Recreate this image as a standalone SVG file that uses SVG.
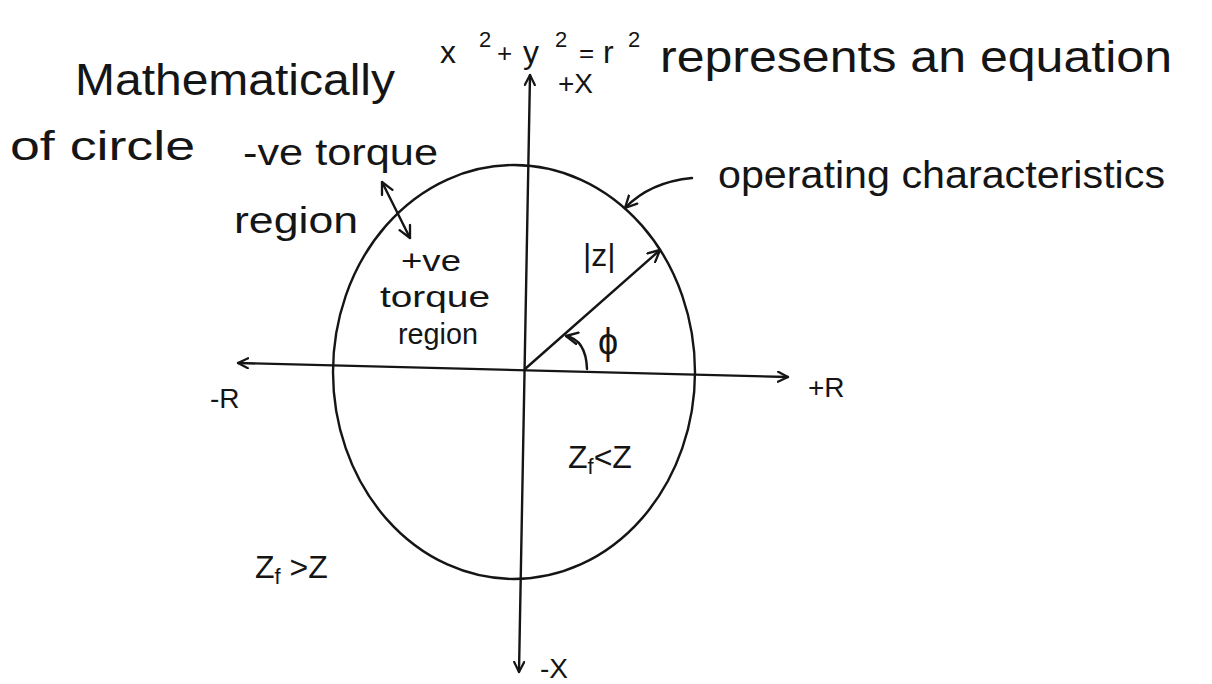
<svg xmlns="http://www.w3.org/2000/svg" width="1212" height="684" viewBox="0 0 1212 684">
<style>
  .ink { stroke:#151515; stroke-width:2.4; fill:none; stroke-linecap:round; stroke-linejoin:round; }
  .t { font-family:"Liberation Sans", Arial, sans-serif; fill:#151515; }
  .mid { font-size:32px; }
  .sm { font-size:28px; }
  .sup { font-size:22px; }
  .eq { font-size:32px; }
</style>
<defs>
  <marker id="arr" viewBox="0 0 12 12" refX="11" refY="6" markerWidth="12" markerHeight="12" markerUnits="userSpaceOnUse" orient="auto-start-reverse">
    <path d="M1,1 L11,6 L1,11" fill="none" stroke="#151515" stroke-width="2.2" stroke-linecap="round" stroke-linejoin="round"/>
  </marker>
  <marker id="arrS" viewBox="0 0 12 12" refX="11" refY="6" markerWidth="14" markerHeight="14" markerUnits="userSpaceOnUse" orient="auto-start-reverse">
    <path d="M1,1 L11,6 L1,11" fill="none" stroke="#151515" stroke-width="2" stroke-linecap="round" stroke-linejoin="round"/>
  </marker>
</defs>
<rect width="1212" height="684" fill="#ffffff"/>

<g id="title">
  <text class="t" x="75" y="95" font-size="44" textLength="320" lengthAdjust="spacingAndGlyphs">Mathematically</text>
  <text class="t eq" x="440" y="63">x</text>
  <text class="t sup" x="479" y="47">2</text>
  <text class="t" x="497" y="62" font-size="26">+</text>
  <text class="t eq" x="523" y="63">y</text>
  <text class="t sup" x="555" y="47">2</text>
  <text class="t" x="579" y="62" font-size="26">=</text>
  <text class="t eq" x="603" y="63">r</text>
  <text class="t sup" x="628" y="47">2</text>
  <text class="t" x="660" y="72" font-size="44" textLength="512" lengthAdjust="spacingAndGlyphs">represents an equation</text>
  <text class="t" x="10" y="160" font-size="40" textLength="185" lengthAdjust="spacingAndGlyphs">of circle</text>
</g>

<g id="circle">
  <ellipse class="ink" cx="514" cy="372" rx="181" ry="207"/>
</g>

<g id="axes">
  <line class="ink" x1="530" y1="75" x2="519" y2="672" marker-start="url(#arr)" marker-end="url(#arr)"/>
  <line class="ink" x1="238" y1="363" x2="788" y2="377" marker-start="url(#arr)" marker-end="url(#arr)"/>
  <text class="t sm" x="558" y="93">+X</text>
  <text class="t sm" x="540" y="678">-X</text>
  <text class="t sm" x="210" y="408">-R</text>
  <text class="t sm" x="808" y="397">+R</text>
</g>

<g id="connectors">
  <line class="ink" x1="525" y1="369" x2="660" y2="250" marker-end="url(#arrS)"/>
  <path class="ink" d="M587,369 Q586,340 566,336" marker-end="url(#arrS)"/>
  <line class="ink" x1="382" y1="182" x2="410" y2="238" marker-start="url(#arrS)" marker-end="url(#arrS)"/>
  <path class="ink" d="M692,178 Q650,182 625,208" marker-end="url(#arrS)"/>
</g>

<g id="neg-torque-region">
  <text class="t" x="243" y="165" font-size="36" textLength="195" lengthAdjust="spacingAndGlyphs">-ve torque</text>
  <text class="t" x="234" y="233" font-size="36" textLength="124" lengthAdjust="spacingAndGlyphs">region</text>
</g>

<g id="pos-torque-region">
  <text class="t" x="401" y="271" font-size="30" textLength="60" lengthAdjust="spacingAndGlyphs">+ve</text>
  <text class="t" x="380" y="307" font-size="29" textLength="110" lengthAdjust="spacingAndGlyphs">torque</text>
  <text class="t" x="398" y="344" font-size="29" textLength="80" lengthAdjust="spacingAndGlyphs">region</text>
</g>

<g id="operating-characteristics">
  <text class="t" x="718" y="188" font-size="38" textLength="447" lengthAdjust="spacingAndGlyphs">operating characteristics</text>
</g>

<g id="labels">
  <text class="t mid" x="583" y="266">|z|</text>
  <text class="t" x="598" y="354" font-size="36">ϕ</text>
  <text class="t mid" x="568" y="468">Z<tspan font-size="22" dy="6">f</tspan><tspan dy="-6">&lt;Z</tspan></text>
  <text class="t mid" x="255" y="578">Z<tspan font-size="22" dy="6">f</tspan><tspan dy="-6"> &gt;Z</tspan></text>
</g>
</svg>
